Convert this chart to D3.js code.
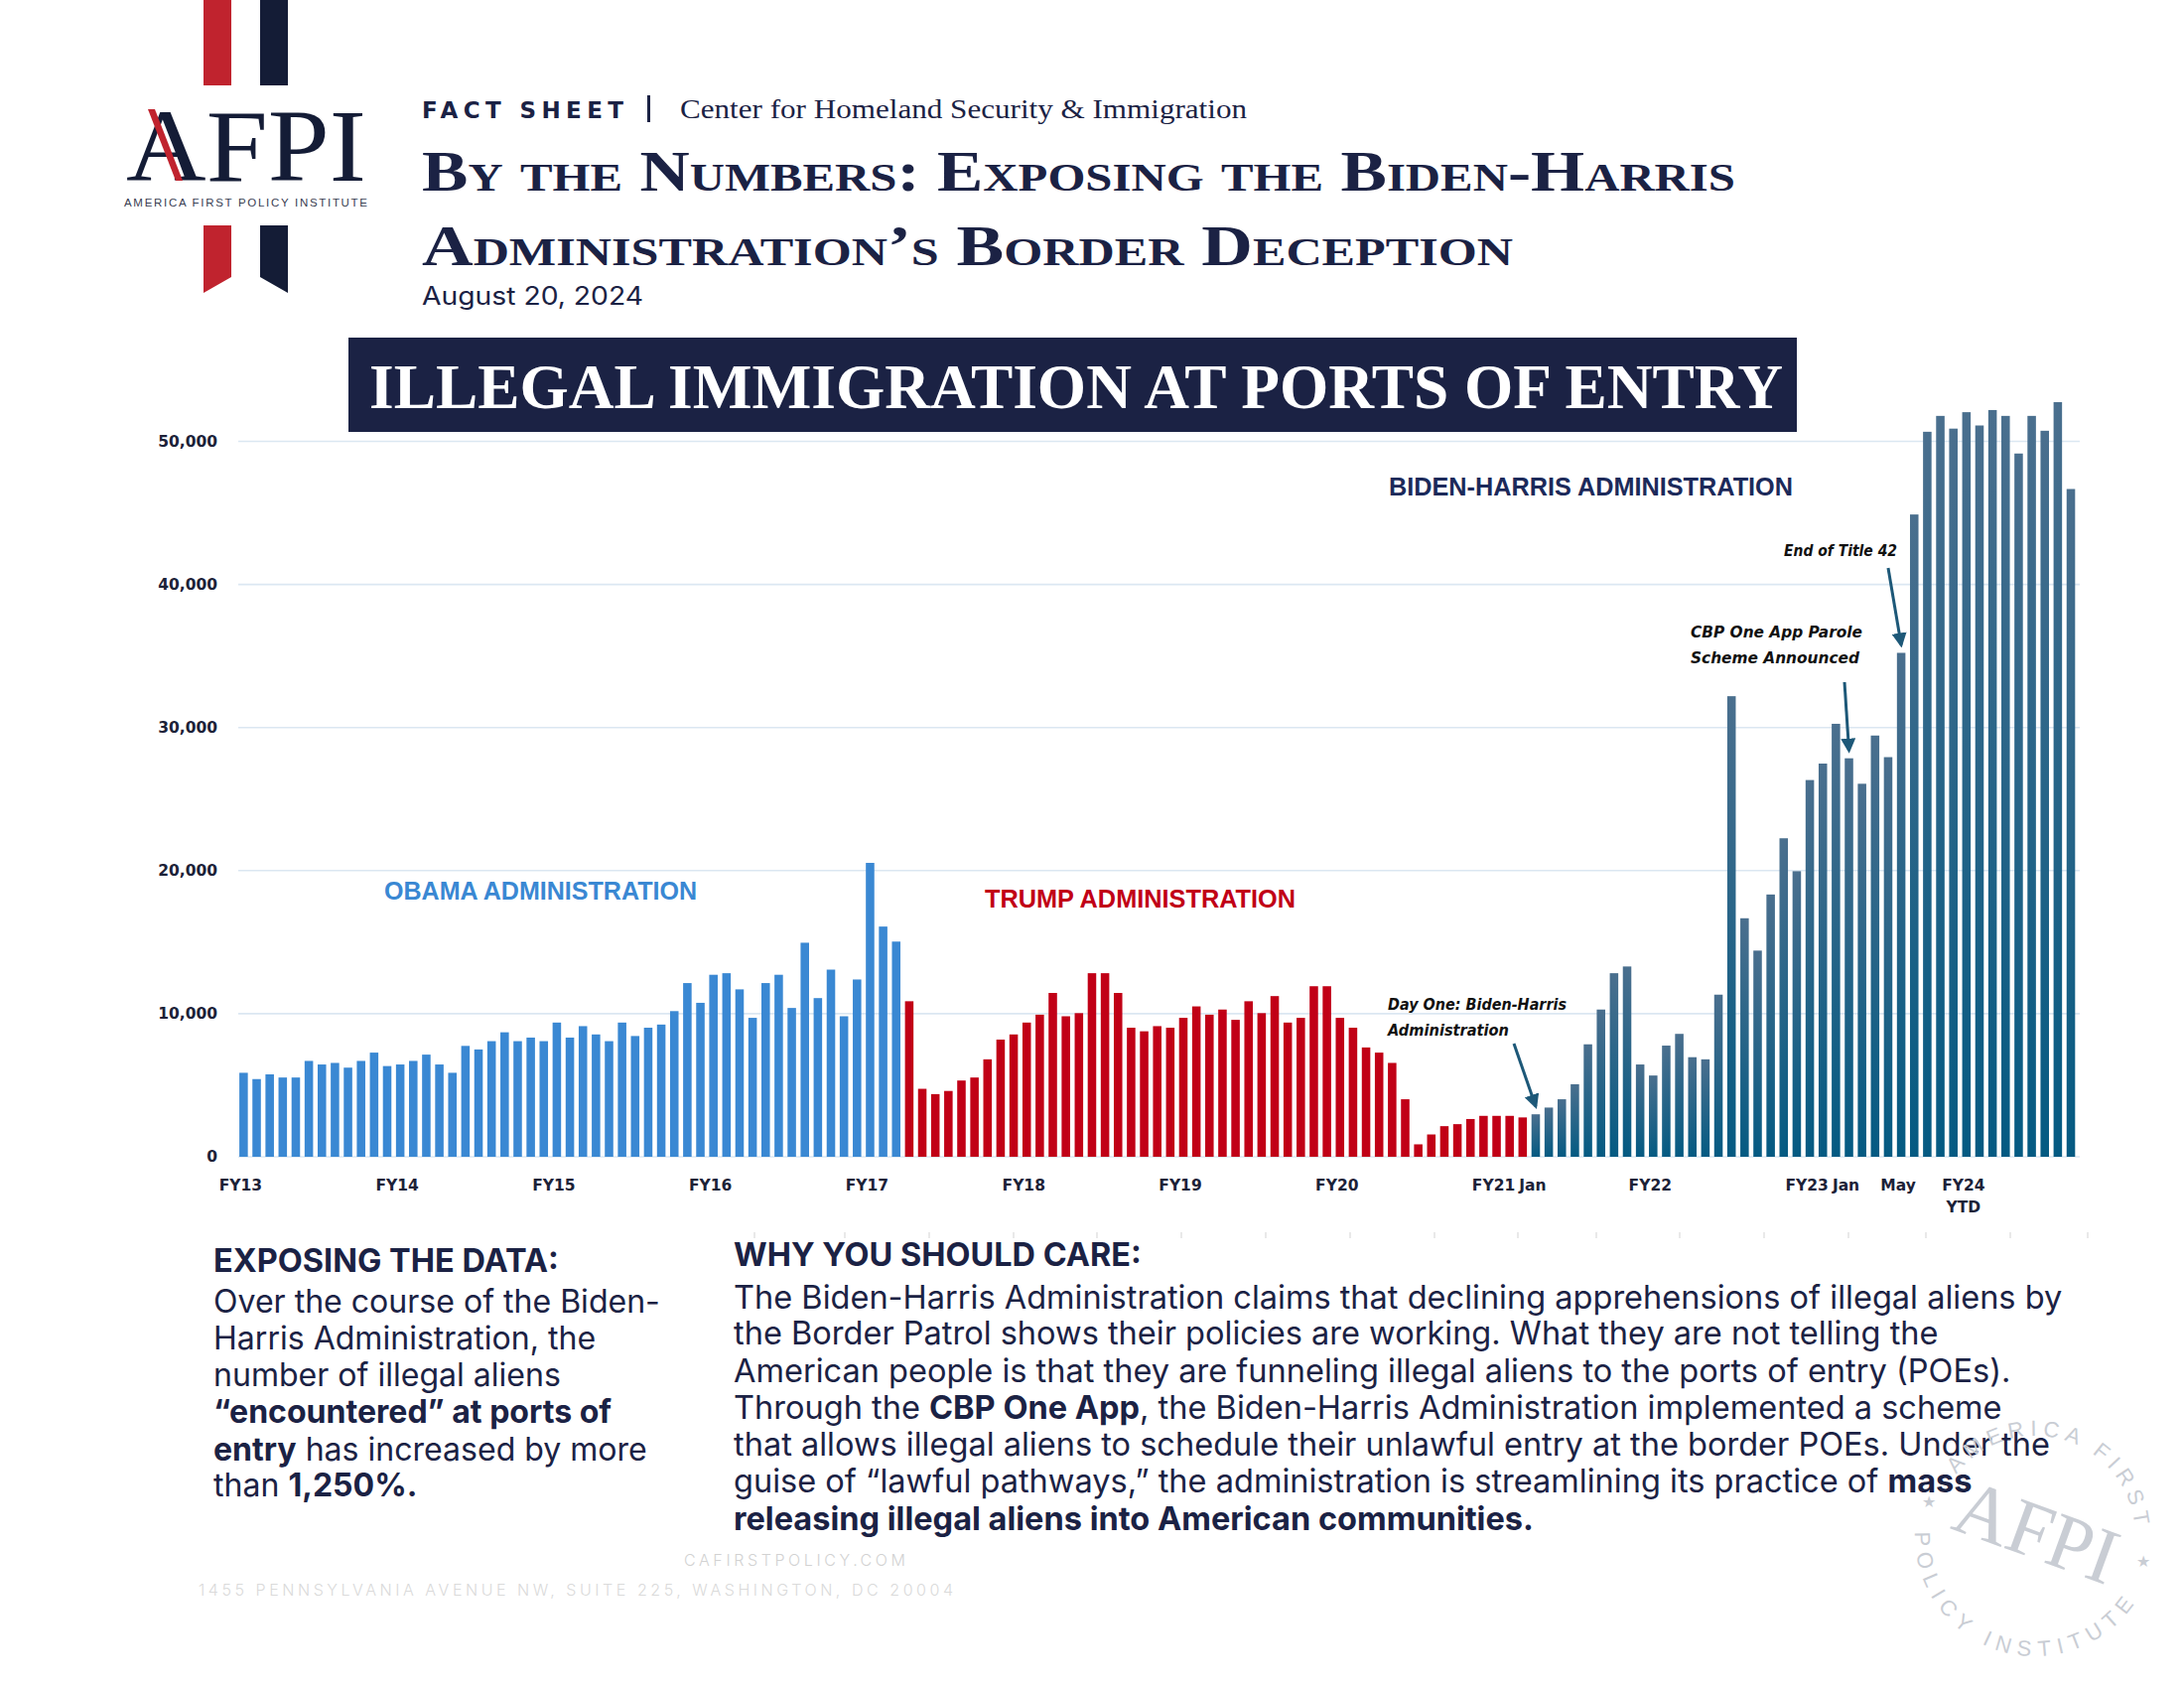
<!DOCTYPE html>
<html><head><meta charset="utf-8">
<script src="https://cdn.jsdelivr.net/npm/d3@7"></script>
<style>body{margin:0;background:#fff}</style>
</head><body>
<svg id="chart" width="2200" height="1700" xmlns="http://www.w3.org/2000/svg"></svg>
<script>
// ---------------- DATA ----------------
// Monthly encounters at ports of entry, Oct 2012 (FY13) through Jun 2024 (FY24 YTD)
const obamaValues = [5870,5430,5760,5540,5540,6700,6450,6560,6230,6700,7280,6340,
  6450,6700,7140,6450,5870,7750,7500,8080,8700,8080,8330,8080,
  9380,8330,9130,8550,8080,9380,8440,9020,9240,10180,12140,10760,
  12720,12830,11700,9710,12140,12720,10400,14960,11090,13080,9820,12390,
  20540,16090,15040];
const trumpValues = [10870,4750,4380,4600,5330,5540,6810,8190,8550,
  9380,9930,11450,9820,10040,12830,12830,11450,9020,8770,9130,9020,
  9710,10510,9930,10290,9570,10870,10040,11230,9380,9710,11920,11920,
  9710,9020,7640,7280,6560,4020,870,1560,2140,2280,2640,2860,
  2860,2860,2750];
const bidenValues = [2970,3440,4020,5070,7860,10290,12830,13300,6450,
  5680,7770,8590,6960,6810,11330,32190,16670,14410,18330,22260,19960,
  26330,27480,30260,27850,26070,29440,27930,35220,44890,50670,51780,50890,
  52040,51110,52190,51780,49150,51780,50740,52740,46670];
const adminNames = ["OBAMA ADMINISTRATION","TRUMP ADMINISTRATION","BIDEN-HARRIS ADMINISTRATION"];
const tickMonths = ["2012-10","2013-10","2014-10","2015-10","2016-10","2017-10","2018-10","2019-10","2020-10","2021-01","2021-10","2022-10","2023-01","2023-05","2023-10"];
const tickLabels = ["FY13","FY14","FY15","FY16","FY17","FY18","FY19","FY20","FY21","Jan","FY22","FY23","Jan","May","FY24\nYTD"];
const yTickValues = [0,10000,20000,30000,40000,50000];
const annotations = [
  {month:"2021-01", lines:["Day One: Biden-Harris","Administration"]},
  {month:"2023-01", lines:["CBP One App Parole","Scheme Announced"]},
  {month:"2023-05", lines:["End of Title 42"]}
];

// ---------------- BUILD ----------------
const series = [];
function pushSeries(vals, admin){ vals.forEach(v => series.push({value:v, admin})); }
pushSeries(obamaValues,0); pushSeries(trumpValues,1); pushSeries(bidenValues,2);
series.forEach((d,i)=>{
  const m = 9 + i; // months since Jan 2012 (0-based), Oct 2012 = 9
  const yr = 2012 + Math.floor(m/12), mo = (m%12)+1;
  d.month = yr + "-" + String(mo).padStart(2,"0");
});

const NAVY = "#1b2244";
const svg = d3.select("#chart");
svg.append("rect").attr("width",2200).attr("height",1700).attr("fill","#fff");

const defs = svg.append("defs");
const grad = defs.append("linearGradient").attr("id","bidenGrad").attr("x1",0).attr("y1",0).attr("x2",0).attr("y2",1);
grad.append("stop").attr("offset","0%").attr("stop-color","#4a6f8e");
grad.append("stop").attr("offset","100%").attr("stop-color","#045a82");
defs.append("marker").attr("id","arrow").attr("viewBox","0 0 10 10").attr("refX",8).attr("refY",5)
  .attr("markerWidth",5).attr("markerHeight",5).attr("orient","auto-start-reverse")
  .append("path").attr("d","M0,0 L10,5 L0,10 Z").attr("fill","#1d5878");

// ---------- Logo ----------
const logo = svg.append("g");
logo.append("rect").attr("x",205).attr("y",0).attr("width",28).attr("height",86).attr("fill","#c0232e");
logo.append("rect").attr("x",262).attr("y",0).attr("width",28).attr("height",86).attr("fill","#141c36");
logo.append("path").attr("d","M205,227 L233,227 L233,279 L205,295 Z").attr("fill","#c0232e");
logo.append("path").attr("d","M262,227 L290,227 L290,295 L262,279 Z").attr("fill","#141c36");
logo.append("text").attr("x",127).attr("y",182).attr("font-family","Liberation Serif, serif")
  .attr("font-size",104).attr("fill","#141c36").attr("textLength",242).attr("lengthAdjust","spacingAndGlyphs").text("AFPI");
logo.append("path").attr("d","M149,110 L156,110 L184,182 L177,182 Z").attr("fill","#c0232e");
logo.append("text").attr("x",125).attr("y",208).attr("font-family","Liberation Sans, sans-serif")
  .attr("font-size",11.5).attr("fill","#3a4052").attr("textLength",245).attr("lengthAdjust","spacing").text("AMERICA FIRST POLICY INSTITUTE");

// ---------- Header ----------
svg.append("text").attr("x",425).attr("y",119).attr("font-family","DejaVu Sans, sans-serif").attr("font-weight","bold")
  .attr("font-size",23).attr("fill",NAVY).attr("textLength",203).attr("lengthAdjust","spacing").text("FACT SHEET");
svg.append("rect").attr("x",652).attr("y",96).attr("width",3).attr("height",27).attr("fill",NAVY);
svg.append("text").attr("x",685).attr("y",119).attr("font-family","Liberation Serif, serif")
  .attr("font-size",28).attr("fill",NAVY).attr("textLength",571).attr("lengthAdjust","spacingAndGlyphs").text("Center for Homeland Security & Immigration");
svg.append("text").attr("x",425).attr("y",192).attr("font-family","Liberation Serif, serif").attr("font-weight","bold")
  .attr("font-size",57).style("font-variant","small-caps").attr("fill",NAVY)
  .attr("textLength",1323).attr("lengthAdjust","spacingAndGlyphs").text("By the Numbers: Exposing the Biden-Harris");
svg.append("text").attr("x",425).attr("y",267).attr("font-family","Liberation Serif, serif").attr("font-weight","bold")
  .attr("font-size",57).style("font-variant","small-caps").attr("fill",NAVY)
  .attr("textLength",1099).attr("lengthAdjust","spacingAndGlyphs").text("Administration’s Border Deception");
svg.append("text").attr("x",425).attr("y",307).attr("font-family","Inter, sans-serif")
  .attr("font-size",25).attr("fill",NAVY).attr("textLength",223).attr("lengthAdjust","spacingAndGlyphs").text("August 20, 2024");

// ---------- Chart title box ----------
svg.append("rect").attr("x",351).attr("y",340).attr("width",1459).attr("height",95).attr("fill","#1b2244");
svg.append("text").attr("x",372).attr("y",411).attr("font-family","Liberation Serif, serif").attr("font-weight","bold")
  .attr("font-size",64).attr("fill","#fff").attr("textLength",1424).attr("lengthAdjust","spacingAndGlyphs")
  .text("ILLEGAL IMMIGRATION AT PORTS OF ENTRY");

// ---------- Scales ----------
const x = d3.scaleBand().domain(series.map(d=>d.month)).range([238.8,2092.6]).paddingInner(0.35).paddingOuter(0.175);
const y = d3.scaleLinear().domain([0,50000]).range([1165,444.5]);

// gridlines
svg.append("g").selectAll("line").data(yTickValues).join("line")
  .attr("x1",240).attr("x2",2095).attr("y1",d=>y(d)).attr("y2",d=>y(d))
  .attr("stroke","#dbe7f2").attr("stroke-width",1.6);

// y axis
const yAxis = d3.axisLeft(y).tickValues(yTickValues).tickFormat(d3.format(",")).tickSize(0).tickPadding(0);
const yg = svg.append("g").attr("transform","translate(219,0)").call(yAxis);
yg.select(".domain").remove();
yg.selectAll("text").attr("font-family","DejaVu Sans, sans-serif").attr("font-weight","bold")
  .attr("font-size",15.5).attr("fill","#1c2238");

// bars
const colors = ["#3a88d3","#c10016","url(#bidenGrad)"];
svg.append("g").selectAll("rect").data(series).join("rect")
  .attr("x",d=>x(d.month)).attr("width",x.bandwidth())
  .attr("y",d=>y(d.value)).attr("height",d=>y(0)-y(d.value))
  .attr("fill",d=>colors[d.admin]);

// x axis
const xAxis = d3.axisBottom(x).tickValues(tickMonths)
  .tickFormat(d=>tickLabels[tickMonths.indexOf(d)]).tickSize(0).tickPadding(0);
const xg = svg.append("g").attr("transform","translate(-3,1188)").call(xAxis);
xg.select(".domain").remove();
xg.selectAll("text").attr("font-family","DejaVu Sans, sans-serif").attr("font-weight","bold")
  .attr("font-size",15.5).attr("fill","#1c2238")
  .each(function(d){
    const t = d3.select(this); const parts = tickLabels[tickMonths.indexOf(d)].split("\n");
    t.text(null);
    parts.forEach((p,i)=>t.append("tspan").attr("x",0).attr("dy",i===0?"0.71em":"1.45em").text(p));
  });

// administration labels
const adminLabelPos = [
  {x:387, y:906, w:315, color:"#3a88d3"},
  {x:992, y:914, w:313, color:"#c10016"},
  {x:1399, y:499, w:407, color:"#1c2a5a"}
];
svg.append("g").selectAll("text").data(adminNames).join("text")
  .attr("x",(d,i)=>adminLabelPos[i].x).attr("y",(d,i)=>adminLabelPos[i].y)
  .attr("font-family","Liberation Sans, sans-serif").attr("font-weight","bold").attr("font-size",26)
  .attr("fill",(d,i)=>adminLabelPos[i].color)
  .attr("textLength",(d,i)=>adminLabelPos[i].w).attr("lengthAdjust","spacingAndGlyphs").text(d=>d);

// event annotations
const annPos = [
  {tx:1398, ty:1017, widths:[180,122], ax1:1525, ay1:1051},
  {tx:1703, ty:642, widths:[173,170], ax1:1858, ay1:687},
  {tx:1797, ty:560, widths:[114], ax1:1902, ay1:572}
];
const annColor = "#1d5878";
annotations.forEach((a,i)=>{
  const p = annPos[i];
  a.lines.forEach((ln,j)=>{
    svg.append("text").attr("x",p.tx).attr("y",p.ty + j*26)
      .attr("font-family","DejaVu Sans, sans-serif").attr("font-weight","bold").attr("font-style","italic")
      .attr("font-size",15).attr("fill","#111")
      .attr("textLength",p.widths[j]).attr("lengthAdjust","spacingAndGlyphs").text(ln);
  });
  const d = series.find(s=>s.month===a.month);
  const bx = x(a.month) + x.bandwidth()/2;
  svg.append("line").attr("x1",p.ax1).attr("y1",p.ay1).attr("x2",bx).attr("y2",y(d.value)-8)
    .attr("stroke",annColor).attr("stroke-width",3).attr("marker-end","url(#arrow)");
});

// ---------- faint ticks (page artifacts) ----------
const faintTicks = [760,851,936,1021,1105,1190,1275,1360,1445,1529,1608,1692,1777,1862,1940,2025,2103];
svg.append("g").selectAll("line").data(faintTicks).join("line")
  .attr("x1",d=>d).attr("x2",d=>d).attr("y1",1241).attr("y2",1247).attr("stroke","#e2e2e2").attr("stroke-width",1.5);

// ---------- Bottom text ----------
const BODY_FONT = "Inter, 'Open Sans', sans-serif";
function para(x0, lines, baselines, targetW, fs){
  const g = svg.append("g");
  const texts = lines.map((segs,i)=>{
    const t = g.append("text").attr("x",x0).attr("y",baselines[i]).attr("font-family",BODY_FONT)
      .attr("font-size",fs).attr("fill",NAVY);
    segs.forEach(s=>t.append("tspan").attr("font-weight",s[1]?700:400).text(s[0]));
    return t;
  });
  const w = texts[0].node().getComputedTextLength();
  const nfs = fs*targetW/w;
  texts.forEach(t=>t.attr("font-size",nfs));
}
function heading(x0,y0,txt,w){
  const t = svg.append("text").attr("x",x0).attr("y",y0).attr("font-family",BODY_FONT).attr("font-weight",700)
    .attr("font-size",28).attr("fill",NAVY).text(txt);
  const cw = t.node().getComputedTextLength();
  t.attr("font-size",28*w/cw);
}
heading(215,1281,"EXPOSING THE DATA:",348);
heading(739,1275,"WHY YOU SHOULD CARE:",411);
para(215,[
  [["Over the course of the Biden-",0]],
  [["Harris Administration, the",0]],
  [["number of illegal aliens",0]],
  [["“encountered” at ports of",1]],
  [["entry",1],[" has increased by more",0]],
  [["than ",0],["1,250%.",1]]
],[1322,1359,1396,1433,1471,1507],450,28);
para(739,[
  [["The Biden-Harris Administration claims that declining apprehensions of illegal aliens by",0]],
  [["the Border Patrol shows their policies are working. What they are not telling the",0]],
  [["American people is that they are funneling illegal aliens to the ports of entry (POEs).",0]],
  [["Through the ",0],["CBP One App",1],[", the Biden-Harris Administration implemented a scheme",0]],
  [["that allows illegal aliens to schedule their unlawful entry at the border POEs. Under the",0]],
  [["guise of “lawful pathways,” the administration is streamlining its practice of ",0],["mass",1]],
  [["releasing illegal aliens into American communities.",1]]
],[1318,1354,1392,1429,1466,1503,1541],1339,28);

// footer
svg.append("text").attr("x",689).attr("y",1577).attr("font-family","Inter, sans-serif").attr("font-weight",300)
  .attr("font-size",16).attr("fill","#d2d2d2").attr("textLength",223).attr("lengthAdjust","spacing").text("CAFIRSTPOLICY.COM");
svg.append("text").attr("x",200).attr("y",1607).attr("font-family","Inter, sans-serif").attr("font-weight",300)
  .attr("font-size",16).attr("fill","#dadada").attr("textLength",760).attr("lengthAdjust","spacing")
  .text("1455 PENNSYLVANIA AVENUE NW, SUITE 225, WASHINGTON, DC 20004");

// ---------- Seal watermark ----------
const cx=2050, cy=1547, SEAL="#c9cdd4";
function pt(r,deg){const a=deg*Math.PI/180;return [cx+r*Math.sin(a), cy-r*Math.cos(a)];}
const rTop=101, rBot=121;
const a0=pt(rTop,-52), a1=pt(rTop,88);
defs.append("path").attr("id","sealTop").attr("d",`M${a0[0]},${a0[1]} A${rTop},${rTop} 0 0 1 ${a1[0]},${a1[1]}`);
const b0=pt(rBot,-88), b1=pt(rBot,-240);
defs.append("path").attr("id","sealBot").attr("d",`M${b0[0]},${b0[1]} A${rBot},${rBot} 0 0 0 ${b1[0]},${b1[1]}`);
const seal = svg.append("g");
seal.append("text").attr("font-family","Liberation Sans, sans-serif").attr("font-size",22).attr("fill",SEAL)
  .append("textPath").attr("href","#sealTop").attr("textLength",Math.PI*rTop*140/180*0.97).attr("lengthAdjust","spacing").text("AMERICA FIRST");
seal.append("text").attr("font-family","Liberation Sans, sans-serif").attr("font-size",22).attr("fill",SEAL)
  .append("textPath").attr("href","#sealBot").attr("textLength",Math.PI*rBot*152/180*0.97).attr("lengthAdjust","spacing").text("POLICY INSTITUTE");
[103,-72].forEach(dg=>{const p=pt(112,dg);
  seal.append("text").attr("x",p[0]).attr("y",p[1]+6).attr("text-anchor","middle").attr("font-size",16).attr("fill",SEAL).text("★");});
seal.append("text").attr("x",cx).attr("y",cy+22).attr("text-anchor","middle").attr("font-family","Liberation Serif, serif")
  .attr("font-size",80).attr("fill",SEAL).attr("transform",`rotate(20,${cx},${cy})`)
  .attr("textLength",168).attr("lengthAdjust","spacingAndGlyphs").text("AFPI");
</script>
</body></html>
